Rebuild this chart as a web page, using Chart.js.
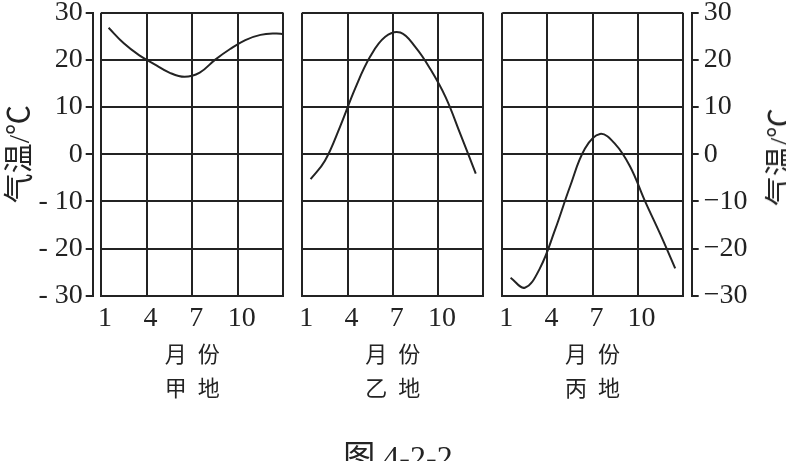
<!DOCTYPE html>
<html>
<head>
<meta charset="utf-8">
<script src="https://cdn.jsdelivr.net/npm/chart.js@4.4.1/dist/chart.umd.min.js"></script>
<style>
  html, body { margin: 0; padding: 0; background: #fff; }
  body { width: 786px; height: 461px; position: relative; overflow: hidden; }
  .panel { position: absolute; top: -20px; }
  #rightTitle {
    position: absolute; left: 777px; top: 157px;
    transform: translate(-50%, -50%) rotate(-90deg);
    font: 30px "Liberation Serif", "Noto Sans CJK SC", serif;
    color: #232323; white-space: nowrap;
  }
  #caption {
    position: absolute; left: 298px; top: 431px; width: 200px;
    text-align: center; line-height: 32px;
    font: 32px "Liberation Serif", "Noto Sans CJK SC", serif;
    color: #232323; white-space: nowrap;
  }
</style>
</head>
<body>
<div class="panel" style="left:0px"><canvas id="jia" width="290" height="480"></canvas></div>
<div class="panel" style="left:285px"><canvas id="yi" width="205" height="480"></canvas></div>
<div class="panel" style="left:485px"><canvas id="bing" width="301" height="480"></canvas></div>
<div id="rightTitle">气温/℃</div>
<div id="caption">图 4-2-2</div>

<script>
// monthly mean temperature (x = month position)
const monthsJia = [1.5, 2.5, 3.5, 4.5, 5.5, 6.5, 7.5, 8.5, 9.5, 10.5, 11.5, 12.5, 13];
const tempJia = [26.8, 23.5, 21.0, 19.1, 17.3, 16.4, 17.3, 20.0, 22.3, 24.2, 25.3, 25.6, 25.5];

const monthsYi = [1.55, 2.5, 3.5, 4.5, 5.5, 6.5, 7.5, 8.5, 9.5, 10.5, 11.5, 12.5];
const tempYi = [-5.3, -1.4, 5.8, 13.9, 20.7, 24.9, 25.8, 22.7, 18.0, 12.1, 4.1, -4.1];

const monthsBing = [1.55, 2.5, 3.5, 4.5, 5.5, 6.5, 7.5, 8.5, 9.5, 10.5, 11.5, 12.5];
const tempBing = [-26.2, -28.3, -24.2, -16.1, -6.9, 1.2, 4.3, 2.2, -2.6, -10.0, -16.9, -24.2];

const xTicks = [1, 4, 7, 10, 13];
const xTickLabels = ['1', '4', '7', '10', ''];
const yGrid = [-30, -20, -10, 0, 10, 20, 30];
const yTicks = [-30, -25, -20, -15, -10, -5, 0, 5, 10, 15, 20, 25, 30];
const yLabelsLeft = ['- 30', '', '- 20', '', '- 10', '', '0', '', '10', '', '20', '', '30'];
const yLabelsRight = ['\u221230', '', '\u221220', '', '\u221210', '', '0', '', '10', '', '20', '', '30'];

const ink = '#232323';
const serif = '"Liberation Serif", "Noto Sans CJK SC", serif';
const cjk = '"Noto Sans CJK SC", sans-serif';

function makePanel(id, xs, temps, place, placeName) {
  const scales = {
    x: {
      type: 'linear', min: 1, max: 13,
      afterBuildTicks: s => { s.ticks = xTicks.map(v => ({ value: v })); },
      afterFit: s => { s.height = 164.3; },
      grid: { color: ink, lineWidth: 2, drawTicks: false },
      border: { color: ink, width: 2 },
      ticks: {
        autoSkip: false, maxRotation: 0, padding: 6, labelOffset: 4,
        color: ink, font: { family: serif, size: 28 },
        callback: (v, i) => xTickLabels[i]
      },
      title: {
        display: true, text: ['月\u2002份', placeName.charAt(0) + '\u2002' + placeName.charAt(1)],
        color: ink, font: { family: cjk, size: 22, lineHeight: '34px' },
        padding: { top: 0, bottom: 55 }
      }
    },
    y: {
      type: 'linear', position: place === 'right' ? 'right' : 'left',
      min: -30, max: 30, weight: 0,
      afterBuildTicks: s => { s.ticks = yGrid.map(v => ({ value: v })); },
      afterFit: s => { s.width = place === 'left' ? 8.3 : (place === 'right' ? 9 : 0); },
      grid: { color: ink, lineWidth: 2, drawTicks: false },
      border: { display: false },
      ticks: { display: false }
    }
  };

  if (place !== 'mid') {
    const left = place === 'left';
    scales.y2 = {
      type: 'linear', position: left ? 'left' : 'right',
      min: -30, max: 30, weight: 1,
      afterBuildTicks: s => { s.ticks = yTicks.map(v => ({ value: v })); },
      afterFit: s => { s.width = left ? 92.7 : 94.3; },
      grid: { drawOnChartArea: false, color: ink, lineWidth: 2, tickLength: 7 },
      border: { display: true, color: ink, width: 2 },
      ticks: {
        color: ink, font: { family: serif, size: 28 }, padding: left ? 3 : 5,
        callback: (v, i) => (left ? yLabelsLeft : yLabelsRight)[i]
      },
      title: {
        display: left, text: '气温/℃', color: ink,
        font: { family: serif, size: 30 }, padding: { top: 3, bottom: 0 }
      }
    };
  }

  const pad = { top: 32.7, bottom: 0, left: 0, right: 6.7 };
  if (place !== 'left') pad.left = 17.3;
  if (place === 'right') pad.right = 0;

  new Chart(document.getElementById(id), {
    type: 'line',
    data: {
      datasets: [{
        data: xs.map((x, i) => ({ x: x, y: temps[i] })),
        borderColor: ink,
        borderWidth: 2,
        pointRadius: 0,
        tension: 0.4,
        fill: false
      }]
    },
    options: {
      responsive: false,
      animation: false,
      events: [],
      layout: { padding: pad },
      scales: scales,
      plugins: { legend: { display: false }, tooltip: { enabled: false } }
    }
  });
}

makePanel('jia', monthsJia, tempJia, 'left', '甲地');
makePanel('yi', monthsYi, tempYi, 'mid', '乙地');
makePanel('bing', monthsBing, tempBing, 'right', '丙地');
</script>
</body>
</html>
